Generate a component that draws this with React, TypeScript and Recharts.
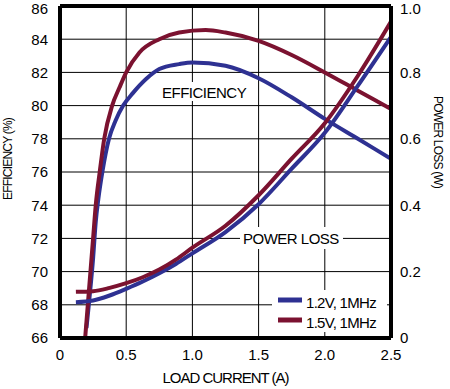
import React from 'react';
import {
  LineChart,
  Line,
  XAxis,
  YAxis,
  CartesianGrid,
  ReferenceLine,
  Customized,
} from 'recharts';

// efficiency curves (load current A -> efficiency %)
const effCurrent15 = [0.19, 0.21, 0.23, 0.25, 0.27, 0.3, 0.334, 0.394, 0.45, 0.5, 0.6, 0.75, 0.9, 1.1, 1.25, 1.5, 1.75, 2.0, 2.25, 2.5];
const eff15 = [66, 68, 70, 72, 74, 76, 78, 80, 81.1, 82, 83.2, 84, 84.4, 84.55, 84.4, 83.9, 83.05, 82.0, 80.9, 79.8];
const effCurrent12 = [0.2, 0.22, 0.25, 0.27, 0.29, 0.32, 0.37, 0.42, 0.477, 0.55, 0.65, 0.75, 0.9, 1.0, 1.25, 1.5, 1.75, 2.0, 2.25, 2.5];
const eff12 = [66.6, 68.2, 70.8, 73.0, 74.4, 76, 78, 79.1, 80, 80.75, 81.6, 82.2, 82.5, 82.6, 82.4, 81.65, 80.5, 79.2, 78.0, 76.8];

// power loss curves (load current A -> W)
const lossCurrent = [0.12, 0.25, 0.375, 0.5, 0.625, 0.75, 0.875, 1.0, 1.25, 1.5, 1.75, 2.0, 2.25, 2.5];
const loss15 = [0.139, 0.141, 0.151, 0.165, 0.183, 0.206, 0.236, 0.272, 0.338, 0.43, 0.54, 0.647, 0.79, 0.953];
const loss12 = [0.108, 0.113, 0.128, 0.148, 0.17, 0.195, 0.223, 0.255, 0.319, 0.403, 0.51, 0.618, 0.76, 0.907];

const xTicks = [0, 0.5, 1.0, 1.5, 2.0, 2.5];
const effTicks = [66, 68, 70, 72, 74, 76, 78, 80, 82, 84, 86];
const lossTicks = [0, 0.2, 0.4, 0.6, 0.8, 1.0];

const BLUE = '#2E3192';
const RED = '#7B1230';
const FONT = "'Liberation Sans', Arial, sans-serif";

const toPoints = (xs: number[], ys: number[]) => xs.map((x, i) => ({ x, y: ys[i] }));

const eff15Data = toPoints(effCurrent15, eff15);
const eff12Data = toPoints(effCurrent12, eff12);
const loss15Data = toPoints(lossCurrent, loss15);
const loss12Data = toPoints(lossCurrent, loss12);

const fmt1 = (v: number) => (v === 0 ? '0' : v.toFixed(1));

const Annotations = () => (
  <g fontFamily={FONT} fill="#000">
    <rect x={160} y={82} width={88} height={19} fill="#fff" />
    <text x={162} y={98} fontSize={15} letterSpacing={-0.5}>EFFICIENCY</text>
    <rect x={240} y={227} width={103} height={22} fill="#fff" />
    <text x={243} y={244} fontSize={15} letterSpacing={-0.5}>POWER LOSS</text>

    <rect x={272} y={290} width={115} height={42} fill="#fff" />
    <line x1={278} x2={302} y1={300} y2={300} stroke={BLUE} strokeWidth={5} />
    <text x={306} y={308} fontSize={15} letterSpacing={-0.7}>1.2V, 1MHz</text>
    <line x1={278} x2={302} y1={320} y2={320} stroke={RED} strokeWidth={5} />
    <text x={306} y={328} fontSize={15} letterSpacing={-0.7}>1.5V, 1MHz</text>

    <text x={225.5} y={383} fontSize={15} letterSpacing={-1} textAnchor="middle">LOAD CURRENT (A)</text>
    <text x={12} y={159} fontSize={12} letterSpacing={-0.8} textAnchor="middle" transform="rotate(-90, 12, 159)">
      EFFICIENCY (%)
    </text>
    <text x={434} y={142} fontSize={12} letterSpacing={-0.8} textAnchor="middle" transform="rotate(90, 434, 142)">
      POWER LOSS (W)
    </text>
  </g>
);

const tickStyle = { fontSize: 15, fontFamily: FONT, fill: '#000' };

export default function App() {
  return (
    <div style={{ position: 'absolute', left: 0, top: 0, width: 450, height: 389, background: '#fff' }}>
      <LineChart width={450} height={389} margin={{ top: 6, right: 0, bottom: 0, left: 0 }}>
        <CartesianGrid yAxisId="eff" stroke="#000" strokeWidth={1} />
        <XAxis
          dataKey="x"
          type="number"
          domain={[0, 2.5]}
          ticks={xTicks}
          tickFormatter={fmt1}
          height={51}
          tickLine={false}
          tickSize={6}
          tickMargin={5}
          axisLine={{ stroke: '#000', strokeWidth: 4 }}
          tick={tickStyle}
          allowDataOverflow
        />
        <YAxis
          yAxisId="eff"
          orientation="left"
          domain={[66, 86]}
          ticks={effTicks}
          width={60}
          tickLine={false}
          tickSize={6}
          tickMargin={6}
          axisLine={{ stroke: '#000', strokeWidth: 4 }}
          tick={tickStyle}
          allowDataOverflow
        />
        <YAxis
          yAxisId="loss"
          orientation="right"
          domain={[0, 1]}
          ticks={lossTicks}
          tickFormatter={fmt1}
          width={59}
          tickLine={false}
          tickSize={6}
          tickMargin={3}
          axisLine={{ stroke: '#000', strokeWidth: 4 }}
          tick={{ ...tickStyle, textAnchor: 'start' }}
          allowDataOverflow
        />
        <ReferenceLine yAxisId="eff" y={86} stroke="#000" strokeWidth={4} />
        <Customized component={Annotations} />
        <Line yAxisId="eff" data={eff12Data} dataKey="y" type="monotone" stroke={BLUE} strokeWidth={4} dot={false} isAnimationActive={false} />
        <Line yAxisId="eff" data={eff15Data} dataKey="y" type="monotone" stroke={RED} strokeWidth={4} dot={false} isAnimationActive={false} />
        <Line yAxisId="loss" data={loss12Data} dataKey="y" type="monotone" stroke={BLUE} strokeWidth={4} dot={false} isAnimationActive={false} />
        <Line yAxisId="loss" data={loss15Data} dataKey="y" type="monotone" stroke={RED} strokeWidth={4} dot={false} isAnimationActive={false} />
      </LineChart>
    </div>
  );
}
